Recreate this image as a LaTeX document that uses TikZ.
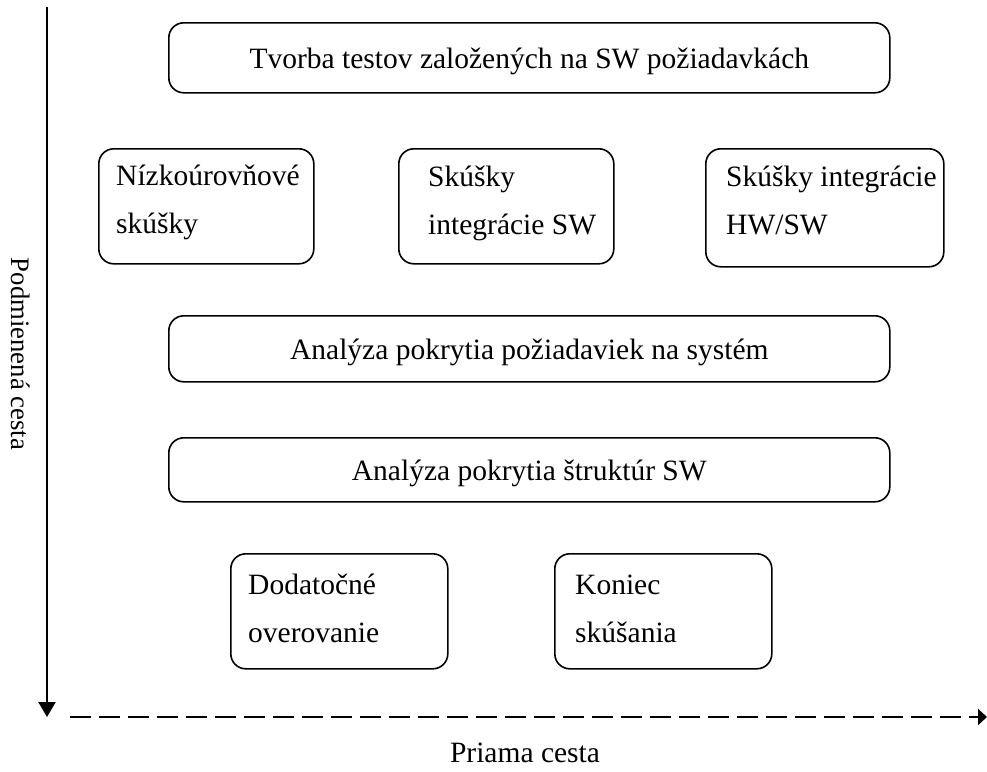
\documentclass[tikz,border=0pt]{standalone}
\usepackage{fontspec}
\setmainfont{Liberation Serif}
\usetikzlibrary{arrows.meta}
\begin{document}
\begin{tikzpicture}[x=1pt,y=-1pt,
  box/.style={draw, line width=1.6pt, rounded corners=15pt, rectangle, inner sep=0pt, anchor=north west},
  txt/.style={inner sep=0pt, font=\fontsize{29.5}{47.5}\selectfont},
  ltxt/.style={txt, anchor=base west, align=left},
  ctxt/.style={txt, anchor=base}
]
\useasboundingbox (0,0) rectangle (987,771);
% long boxes
\node[box, minimum width=721pt, minimum height=70pt] (t) at (168,22) {};
\node[ctxt] (tt) at (t.center |- 0,68) {Tvorba testov založených na SW požiadavkách};
\node[box, minimum width=721pt, minimum height=66pt] (a1) at (168,315) {};
\node[ctxt] (a1t) at (a1.center |- 0,359) {Analýza pokrytia požiadaviek na systém};
\node[box, minimum width=721pt, minimum height=64pt] (a2) at (168,437) {};
\node[ctxt] (a2t) at (a2.center |- 0,480) {Analýza pokrytia štruktúr SW};
% row 2 (base anchor = last line's baseline)
\node[box, minimum width=215pt, minimum height=115pt] (b1) at (98,148) {};
\node[ltxt] (b1t) at (116,233) {Nízkoúrovňové\\skúšky};
\node[box, minimum width=215pt, minimum height=115pt] (b2) at (398,148) {};
\node[ltxt] (b2t) at (428,234) {Skúšky\\integrácie SW};
\node[box, minimum width=238pt, minimum height=118pt] (b3) at (705,148) {};
\node[ltxt] (b3t) at (726,234) {Skúšky integrácie\\HW/SW};
% bottom row
\node[box, minimum width=217pt, minimum height=115pt] (c1) at (230,553) {};
\node[ltxt] (c1t) at (248,642) {Dodatočné\\overovanie};
\node[box, minimum width=217pt, minimum height=115pt] (c2) at (554,553) {};
\node[ltxt] (c2t) at (575,642) {Koniec\\skúšania};
% axes
\coordinate (vs) at (47,7);
\coordinate (ve) at (47,717);
\coordinate (hs) at (70,717);
\coordinate (he) at (987,717);
\draw[line width=2.2pt, -{Triangle[width=17pt,length=15pt]}] (vs) -- (ve);
\draw[line width=2.6pt, dash pattern=on 21pt off 8pt, -{Triangle[width=16pt,length=9pt]}] (hs) -- (he);
\node[txt, rotate=-90, font=\fontsize{26.7}{32}\selectfont] (lv) at (21,354) {Podmienená cesta};
\node[txt] (lh) at (525,753) {Priama cesta};
\end{tikzpicture}
\end{document}
